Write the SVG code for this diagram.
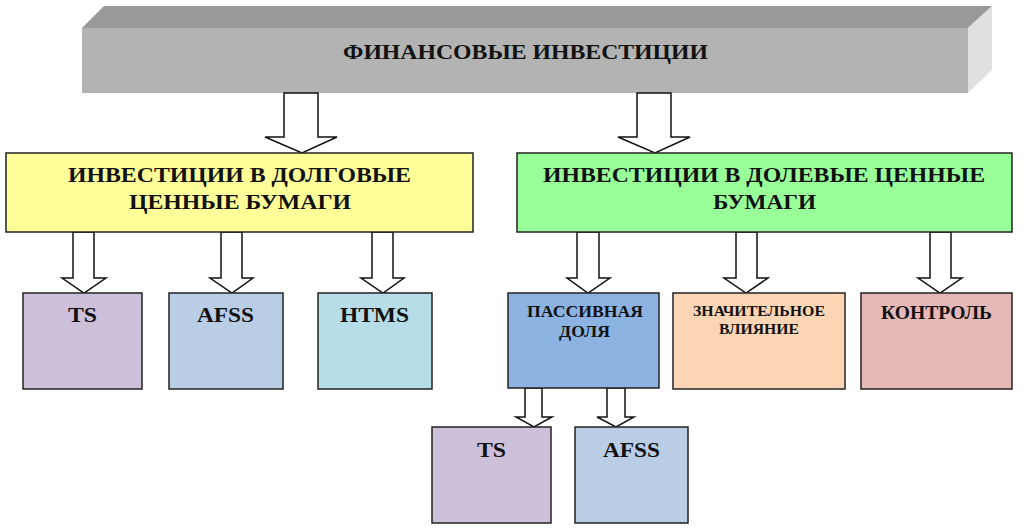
<svg xmlns="http://www.w3.org/2000/svg" width="1024" height="531" viewBox="0 0 1024 531">
<style>
.box{stroke:#222;stroke-width:1.5}
.arr{fill:#fff;stroke:#111;stroke-width:1.5;stroke-linejoin:miter}
text{font-family:"Liberation Serif","DejaVu Serif",serif;font-weight:bold;fill:#111;text-anchor:middle}
.big{font-size:22px}
.mid{font-size:22px}
</style>
<rect width="1024" height="531" fill="#fff"/>
<g id="root">
<polygon points="82,28 104,6 992,6 968,28" fill="#999999"/>
<polygon points="968,28 992,6 992,70 968,93" fill="#e0e0e0"/>
<rect x="82" y="28" width="886" height="65" fill="#b3b3b3"/>
<text class="mid" x="525.5" y="59" textLength="365" lengthAdjust="spacingAndGlyphs">ФИНАНСОВЫЕ ИНВЕСТИЦИИ</text>
</g>
<g id="connectors">
<polygon class="arr" points="284,93 318,93 318,137 337,137 302,153 265,137 284,137"/>
<polygon class="arr" points="637,93 671,93 671,137 690,137 655,153 618,137 637,137"/>
<polygon class="arr" points="73,232 94,232 94,278 106,278 84,293 62,278 73,278"/>
<polygon class="arr" points="221,232 242,232 242,278 253,278 232,293 210,278 221,278"/>
<polygon class="arr" points="372,232 393,232 393,278 404,278 383,293 361,278 372,278"/>
<polygon class="arr" points="577,232 599,232 599,278 610,278 588,293 567,278 577,278"/>
<polygon class="arr" points="736,232 757,232 757,278 768,278 746,293 724,278 736,278"/>
<polygon class="arr" points="930,232 951,232 951,278 962,278 940,293 918,278 930,278"/>
<polygon class="arr" points="525,388 542,388 542,417 552,417 534,427 516,417 525,417"/>
<polygon class="arr" points="607,388 625,388 625,417 634,417 616,427 597,417 607,417"/>
</g>
<g id="debt">
<rect class="box" x="6" y="153" width="467" height="79" fill="#ffff99"/>
<text class="big" x="239.5" y="182" textLength="343" lengthAdjust="spacingAndGlyphs">ИНВЕСТИЦИИ В ДОЛГОВЫЕ</text>
<text class="big" x="240" y="209" textLength="222" lengthAdjust="spacingAndGlyphs">ЦЕННЫЕ БУМАГИ</text>
</g>
<g id="equity">
<rect class="box" x="517" y="153" width="495" height="79" fill="#99ff99"/>
<text class="big" x="764" y="182" textLength="442" lengthAdjust="spacingAndGlyphs">ИНВЕСТИЦИИ В ДОЛЕВЫЕ ЦЕННЫЕ</text>
<text class="big" x="764.5" y="209" textLength="103" lengthAdjust="spacingAndGlyphs">БУМАГИ</text>
</g>
<g id="ts1">
<rect class="box" x="23" y="293" width="119" height="96" fill="#ccc0da"/>
<text class="mid" x="82.5" y="322" textLength="29" lengthAdjust="spacingAndGlyphs">TS</text>
</g>
<g id="afss1">
<rect class="box" x="169" y="293" width="114" height="96" fill="#b9cde5"/>
<text class="mid" x="225.5" y="322" textLength="57" lengthAdjust="spacingAndGlyphs">AFSS</text>
</g>
<g id="htms">
<rect class="box" x="318" y="293" width="114" height="96" fill="#b7dee8"/>
<text class="mid" x="374.5" y="322" textLength="69" lengthAdjust="spacingAndGlyphs">HTMS</text>
</g>
<g id="passive">
<rect class="box" x="508" y="293" width="151" height="95" fill="#8db3e2"/>
<text x="585" y="317" font-size="16.5" textLength="116" lengthAdjust="spacingAndGlyphs">ПАССИВНАЯ</text>
<text x="584.5" y="337" font-size="16.5" textLength="51" lengthAdjust="spacingAndGlyphs">ДОЛЯ</text>
</g>
<g id="significant">
<rect class="box" x="673" y="293" width="172" height="96" fill="#fcd5b4"/>
<text x="759" y="316" font-size="15" textLength="132" lengthAdjust="spacingAndGlyphs">ЗНАЧИТЕЛЬНОЕ</text>
<text x="759" y="334" font-size="15" textLength="80" lengthAdjust="spacingAndGlyphs">ВЛИЯНИЕ</text>
</g>
<g id="control">
<rect class="box" x="861" y="293" width="151" height="96" fill="#e6b9b8"/>
<text x="936.5" y="319" font-size="19" textLength="111" lengthAdjust="spacingAndGlyphs">КОНТРОЛЬ</text>
</g>
<g id="ts2">
<rect class="box" x="432" y="427" width="119" height="96" fill="#ccc0da"/>
<text class="mid" x="491.5" y="456.5" textLength="29" lengthAdjust="spacingAndGlyphs">TS</text>
</g>
<g id="afss2">
<rect class="box" x="575" y="427" width="113" height="96" fill="#b9cde5"/>
<text class="mid" x="631.5" y="456.5" textLength="57" lengthAdjust="spacingAndGlyphs">AFSS</text>
</g>
</svg>
